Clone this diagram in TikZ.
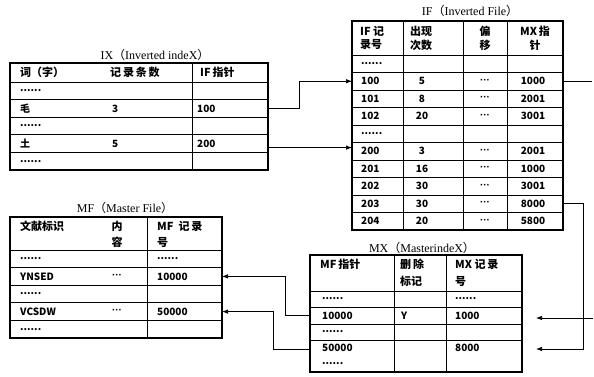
\documentclass[tikz,border=0pt]{standalone}
\usepackage{fontspec}
\setmainfont{Liberation Serif}
\newfontfamily\cjk{Noto Sans CJK SC}
\newfontfamily\lsans{Liberation Sans}
\usetikzlibrary{arrows.meta}
\newcommand\mdots{{\lsans\bfseries ···}}
\begin{document}
\begin{tikzpicture}[x=1pt,y=-1pt,
  tbl/.style={line width=1.3pt},
  grid/.style={line width=0.8pt},
  rowbox/.style={draw, line width=0.8pt, inner sep=0pt, outer sep=0pt},
  cell/.style={font=\cjk\bfseries\fontsize{10}{12}\selectfont, inner sep=0pt, anchor=west},
  ccell/.style={font=\cjk\bfseries\fontsize{10}{12}\selectfont, inner sep=0pt},
  hcell/.style={font=\cjk\bfseries\fontsize{11}{13}\selectfont, inner sep=0pt, anchor=west},
  hccell/.style={font=\cjk\bfseries\fontsize{11}{13}\selectfont, inner sep=0pt},
  ttl/.style={font=\fontsize{12}{14}\selectfont, inner sep=0pt},
  conn/.style={line width=0.7pt},
  arr/.style={conn, -{Latex[length=6pt,width=4.5pt]}},
]
\useasboundingbox (0,0) rectangle (594,377);

% ---------------- IX ----------------
\node[ttl] (ixtitle) at (155,55) {IX{\cjk （}Inverted indeX{\cjk ）}};
\node[rowbox, minimum width=258pt, minimum height=19pt] (ixh) at (139,72.5) {};
\foreach \c [count=\i] in {90.8,108.4,126,143.6,161.2}
  \node[rowbox, minimum width=258pt, minimum height=17.6pt] (ix\i) at (139,\c) {};
\draw[tbl] (ixh.north west) rectangle (ix5.south east);
\draw[grid] (192,63) -- (192,170);
\node[hcell] (ixh1) at (20,72.5) {词（字）};
\node[hcell] (ixh2) at (110,72.5) {记\,录\,条\,数};
\node[hcell] (ixh3) at (200,72.5) {IF\,指针};
\foreach \xx/\yy/\lbl [count=\i] in {
  20/90.8/{......}, 20/108.4/{毛}, 112/108.4/{3}, 197/108.4/{100},
  20/126/{......}, 20/143.6/{土}, 112/143.6/{5}, 197/143.6/{200}, 20/161.2/{......}}
  \node[cell] (ixc\i) at (\xx,\yy) {\lbl};

% ---------------- IF ----------------
\node[ttl] (iftitle) at (470,11) {IF{\cjk （}Inverted File{\cjk ）}};
\node[rowbox, minimum width=211pt, minimum height=34pt] (ifh) at (457.5,38) {};
\foreach \c [count=\i from 0] in {63.75,81.25,98.75,116.25,133.75,151.25,168.75,186.25,203.75,221.25}
  \node[rowbox, minimum width=211pt, minimum height=17.5pt] (if\i) at (457.5,\c) {};
\draw[tbl] (ifh.north west) rectangle (if9.south east);
\foreach \xx in {403,463,507} \draw[grid] (\xx,21) -- (\xx,230);
\node[hcell] (ifh1a) at (360,31) {IF 记};
\node[hcell] (ifh1b) at (360,45) {录号};
\node[hccell] (ifh2a) at (421,31) {出现};
\node[hccell] (ifh2b) at (421,45) {次数};
\node[hccell] (ifh3a) at (485,31) {偏};
\node[hccell] (ifh3b) at (485,45) {移};
\node[hccell] (ifh4a) at (535,31) {MX\,指};
\node[hccell] (ifh4b) at (535,45) {针};
\node[cell] (ifdots1) at (361,63.75) {......};
\node[cell] (ifdots2) at (361,133.75) {......};
\foreach \yy/\va/\vb/\vc [count=\i] in {81.25/100/5/1000, 98.75/101/8/2001, 116.25/102/20/3001,
  151.25/200/3/2001, 168.75/201/16/1000, 186.25/202/30/3001, 203.75/203/30/8000, 221.25/204/20/5800}{
  \node[cell] (ifa\i) at (361,\yy) {\va};
  \node[ccell] (ifb\i) at (422,\yy) {\vb};
  \node[ccell] (ifc\i) at (485,\yy) {\mdots};
  \node[ccell] (ifd\i) at (533,\yy) {\vc};
}

% ---------------- MF ----------------
\node[ttl] (mftitle) at (125,208) {MF{\cjk （}Master File{\cjk ）}};
\node[rowbox, minimum width=212pt, minimum height=33pt] (mfh) at (116,233.5) {};
\foreach \c [count=\i] in {258.8,276.4,294,311.6,329.2}
  \node[rowbox, minimum width=212pt, minimum height=17.6pt] (mf\i) at (116,\c) {};
\draw[tbl] (mfh.north west) rectangle (mf5.south east);
\draw[grid] (147,217) -- (147,338);
\node[hcell] (mfh1) at (20,226) {文献标识};
\node[hccell] (mfh2a) at (117,226) {内};
\node[hccell] (mfh2b) at (117,242) {容};
\node[hcell] (mfh3a) at (157,226) {MF\ \ 记\,录};
\node[hcell] (mfh3b) at (157,242) {号};
\foreach \xx/\yy/\lbl [count=\i] in {20/258.8/{......}, 157/258.8/{......},
  20/276.4/{YNSED}, 157/276.4/{10000}, 20/294/{......},
  20/311.6/{VCSDW}, 157/311.6/{50000}, 20/329.2/{......}}
  \node[cell] (mfc\i) at (\xx,\yy) {\lbl};
\node[ccell] (mfdot1) at (117,276.4) {\mdots};
\node[ccell] (mfdot2) at (117,311.6) {\mdots};

% ---------------- MX ----------------
\node[ttl] (mxtitle) at (422,248) {MX{\cjk （}MasterindeX{\cjk ）}};
\node[rowbox, minimum width=212pt, minimum height=36pt] (mxh) at (416,273) {};
\node[rowbox, minimum width=212pt, minimum height=16pt] (mx1) at (416,299) {};
\node[rowbox, minimum width=212pt, minimum height=17pt] (mx2) at (416,315.5) {};
\node[rowbox, minimum width=212pt, minimum height=16pt] (mx3) at (416,332) {};
\node[rowbox, minimum width=212pt, minimum height=32pt] (mx4) at (416,356) {};
\draw[tbl] (mxh.north west) rectangle (mx4.south east);
\foreach \xx in {394,446} \draw[grid] (\xx,255) -- (\xx,372);
\node[hcell] (mxh1) at (320,264) {MF\,指针};
\node[hcell] (mxh2a) at (400,264) {删\,除};
\node[hcell] (mxh2b) at (400,281) {标记};
\node[hcell] (mxh3a) at (455,264) {MX\ 记\,录};
\node[hcell] (mxh3b) at (455,281) {号};
\foreach \xx/\yy/\lbl [count=\i] in {
  322/299/{......}, 455/299/{......},
  322/315.5/{10000}, 401/315.5/{Y}, 455/315.5/{1000},
  322/332/{......}, 322/348/{50000}, 455/348/{8000}, 322/364/{......}}
  \node[cell] (mxc\i) at (\xx,\yy) {\lbl};

% ---------------- connectors ----------------
\draw[arr] (ix2.east) -- ++(31,0) |- (if1.west);
\coordinate (tuout) at ([yshift=-4pt]ix4.east);
\draw[arr] (tuout) -- (tuout -| if5.west);
\coordinate (offA) at (592,81.25);
\draw[conn] (if1.east) -- (offA);
\draw[arr, shorten >=14pt] (if8.east) -- ++(20,0) |- ([yshift=7pt]mx4.east);
\coordinate (offB) at (593,318);
\draw[arr, shorten >=14pt] (offB) -- (offB -| mx2.east);
\draw[arr] (mx2.west) -- ++(-25,0) |- (mf2.east);
\draw[arr] ([yshift=7pt]mx4.west) -- ++(-37,0) |- (mf4.east);
\end{tikzpicture}
\end{document}
